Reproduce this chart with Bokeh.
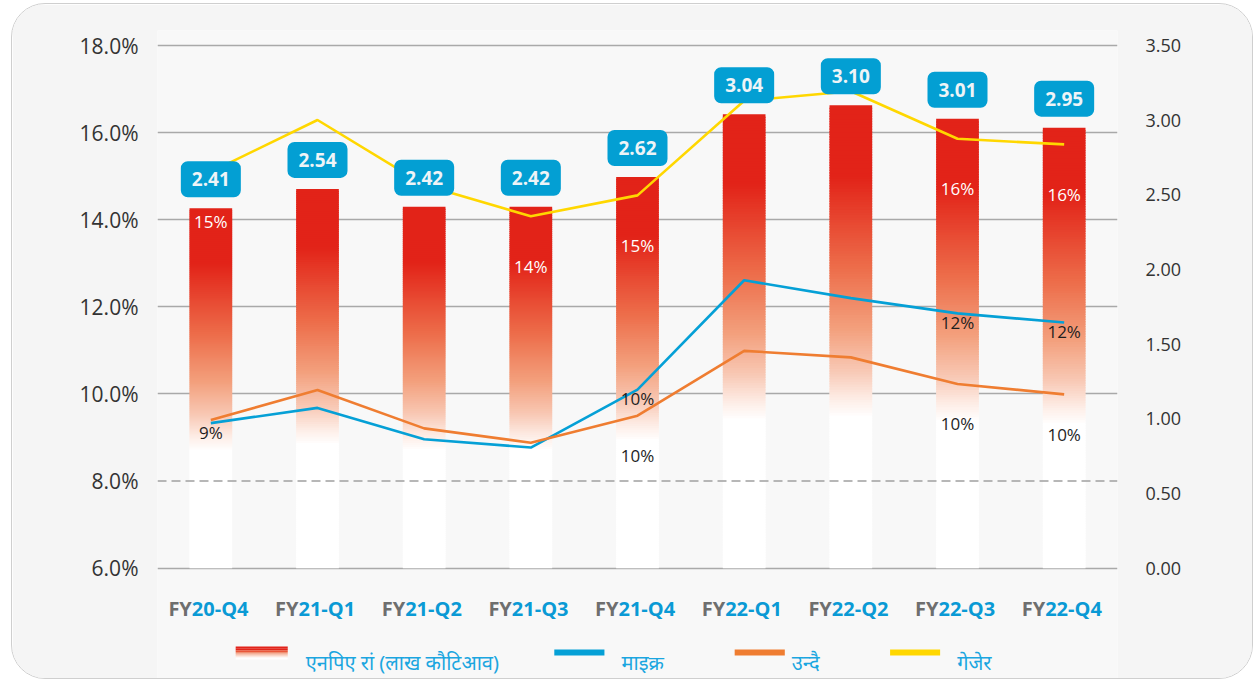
from bokeh.plotting import figure
from bokeh.models import FactorRange, Range1d, LinearAxis, FixedTicker, PrintfTickFormatter, Span, ColumnDataSource
from bokeh.core.properties import value
from bokeh.embed import file_html
from bokeh.resources import INLINE

# ---------------- data ----------------
periods = ["FY20-Q4", "FY21-Q1", "FY21-Q2", "FY21-Q3", "FY21-Q4",
           "FY22-Q1", "FY22-Q2", "FY22-Q3", "FY22-Q4"]
fy_prefix = ["FY"] * 9
fy_suffix = ["20-Q4", "21-Q1", "21-Q2", "21-Q3", "21-Q4",
             "22-Q1", "22-Q2", "22-Q3", "22-Q4"]
npa_lakh_crore = [2.41, 2.54, 2.42, 2.42, 2.62, 3.04, 3.10, 3.01, 2.95]
npa_labels = ["2.41", "2.54", "2.42", "2.42", "2.62", "3.04", "3.10", "3.01", "2.95"]
micro = [9.33, 9.68, 8.96, 8.77, 10.10, 12.61, 12.20, 11.85, 11.64]
undai = [9.40, 10.09, 9.21, 8.88, 9.50, 10.99, 10.84, 10.23, 9.99]
gejer = [15.10, 16.29, 14.80, 14.08, 14.56, 16.73, 16.95, 15.86, 15.73]
micro_labels = ["9%", "", "", "", "10%", "", "", "12%", "12%"]
undai_labels = ["", "", "", "", "10%", "", "", "10%", "10%"]
gejer_labels = ["15%", "", "", "14%", "15%", "", "", "16%", "16%"]
legend_labels = ["एनपिए रां (लाख कौटिआव)", "माइक्र", "उन्दै", "गेजेर"]
left_ticks = [6, 8, 10, 12, 14, 16, 18]
right_ticks = [0.0, 0.5, 1.0, 1.5, 2.0, 2.5, 3.0, 3.5]

# ---------------- layout constants ----------------
Y0, Y1 = 3.421, 18.345          # left axis (percent) visible range
K = 3.5 / 12.0                   # right axis units per percent
R0, R1 = (Y0 - 6) * K, (Y1 - 6) * K

BLUE = "#05a0d6"
ORANGE = "#ef7d31"
YELLOW = "#ffd700"
FONT = value("Open Sans")

p = figure(width=1242, height=676, x_range=FactorRange(*periods),
           y_range=Range1d(Y0, Y1), output_backend="svg", toolbar_location=None,
           x_axis_location=None, min_border_left=145, min_border_right=137,
           min_border_top=26, min_border_bottom=0)
p.extra_y_ranges = {"npa": Range1d(R0, R1)}
p.background_fill_color = "#f8f8f8"
p.border_fill_color = "#f5f5f5"
p.outline_line_color = None
p.styles = {"border": "1px solid #cfcfcf", "border-radius": "34px", "overflow": "hidden",
            "margin-left": "11px", "margin-top": "3px"}

# grid
p.xgrid.visible = False
p.ygrid.ticker = FixedTicker(ticks=[6, 10, 12, 14, 16, 18])
p.ygrid.grid_line_color = "#a9a9a9"
p.ygrid.grid_line_width = 1.5

# left axis
ya = p.yaxis[0]
ya.ticker = FixedTicker(ticks=left_ticks)
ya.formatter = PrintfTickFormatter(format="%.1f%%")
ya.axis_line_color = None
ya.major_tick_line_color = None
ya.minor_tick_line_color = None
ya.major_label_standoff = 13
ya.major_label_text_font = "Open Sans"
ya.major_label_text_font_size = "21px"
ya.major_label_text_color = "#333333"

# right axis
ra = LinearAxis(y_range_name="npa", ticker=FixedTicker(ticks=right_ticks),
                formatter=PrintfTickFormatter(format="%.2f"))
ra.axis_line_color = None
ra.major_tick_line_color = None
ra.minor_tick_line_color = None
ra.major_label_standoff = 22
ra.major_label_text_font = "Open Sans"
ra.major_label_text_font_size = "18px"
ra.major_label_text_color = "#333333"
p.add_layout(ra, "right")

# ---------------- gradient bars ----------------
stops_t = [0.0, 0.15, 0.35, 0.48, 0.57, 0.63, 0.67, 1.0]
stops_c = [(226, 35, 24), (226, 35, 24), (237, 110, 75), (243, 160, 125),
           (248, 200, 180), (253, 236, 229), (255, 255, 255), (255, 255, 255)]

def grad(t):
    for j in range(len(stops_t) - 1):
        if stops_t[j] <= t <= stops_t[j + 1]:
            a = (t - stops_t[j]) / (stops_t[j + 1] - stops_t[j])
            c = [round(stops_c[j][k] + a * (stops_c[j + 1][k] - stops_c[j][k])) for k in range(3)]
            return "#%02x%02x%02x" % tuple(c)
    return "#ffffff"

N = 180
bx, btop, bbot, bcol = [], [], [], []
for cat, v in zip(periods, npa_lakh_crore):
    for k in range(N - 1, -1, -1):
        bx.append(cat)
        btop.append(v * (1 - k / N))
        bbot.append(max(0.0, v * (1 - (k + 1.6) / N)))
        bcol.append(grad((k + 0.5) / N))
p.vbar(x="x", top="top", bottom="bottom", width=0.4, fill_color="c", line_color=None,
       source=ColumnDataSource(dict(x=bx, top=btop, bottom=bbot, c=bcol)), y_range_name="npa")

# 8% dashed reference line (drawn over the bars)
p.add_layout(Span(location=8, dimension="width", line_color="#a0a0a0",
                  line_dash="9 5", line_width=1.5))

# ---------------- lines ----------------
p.line(periods, gejer, line_color=YELLOW, line_width=2.6)
p.line(periods, micro, line_color=BLUE, line_width=2.6)
p.line(periods, undai, line_color=ORANGE, line_width=2.6)

# ---------------- labels ----------------
p.text(x=periods, y=gejer, text=gejer_labels, y_offset=50, text_align="center",
       text_baseline="middle", text_font=FONT, text_font_size="17px", text_color="#ffffff")
p.text(x=periods, y=micro, text=micro_labels, y_offset=9, text_align="center",
       text_baseline="middle", text_font=FONT, text_font_size="17px", text_color="#1e1e1e")
p.text(x=periods, y=undai, text=undai_labels, y_offset=40, text_align="center",
       text_baseline="middle", text_font=FONT, text_font_size="17px", text_color="#1e1e1e")

# value boxes above bars
p.text(x=periods, y=npa_lakh_crore, text=npa_labels, y_range_name="npa", y_offset=-29,
       text_align="center", text_baseline="middle", text_font=FONT, text_font_style="bold",
       text_font_size="19px", text_color="#eef4f7", background_fill_color="#039fd3",
       border_radius=7, padding=11)

# category labels (two-tone)
XL_Y = 5.079
p.text(x=periods, y=[XL_Y] * 9, text=fy_prefix, x_offset=-19, text_align="right",
       text_baseline="middle", text_font=FONT, text_font_style="bold",
       text_font_size="20px", text_color="#6e6e6e")
p.text(x=periods, y=[XL_Y] * 9, text=fy_suffix, x_offset=-19, text_align="left",
       text_baseline="middle", text_font=FONT, text_font_style="bold",
       text_font_size="20px", text_color="#0a9ad5")

# ---------------- custom legend ----------------
sw_cols = ["#e2231a", "#e2231a", "#e9573a", "#f08f70", "#f7c4b0", "#fde8df", "#ffffff"]
n_sw = len(sw_cols)
sw_top, sw_bot = 4.204, 3.904
h = (sw_top - sw_bot) / n_sw
p.quad(left=[0.733] * n_sw, right=[1.221] * n_sw,
       top=[sw_top - i * h for i in range(n_sw)],
       bottom=[sw_top - (i + 1) * h for i in range(n_sw)],
       fill_color=sw_cols, line_color=None)
p.quad(left=[3.720, 5.411, 6.868], right=[4.190, 5.881, 7.337],
       top=[4.135] * 3, bottom=[3.996] * 3,
       fill_color=[BLUE, ORANGE, YELLOW], line_color=None)
p.text(x=[1.390, 4.350, 5.947, 7.497], y=[3.835] * 4, text=legend_labels,
       text_align="left", text_baseline="middle", text_font=value("Noto Sans"),
       text_font_size="20px", text_color="#1ba6e0")

open("out.html", "w").write(file_html(p, INLINE))
